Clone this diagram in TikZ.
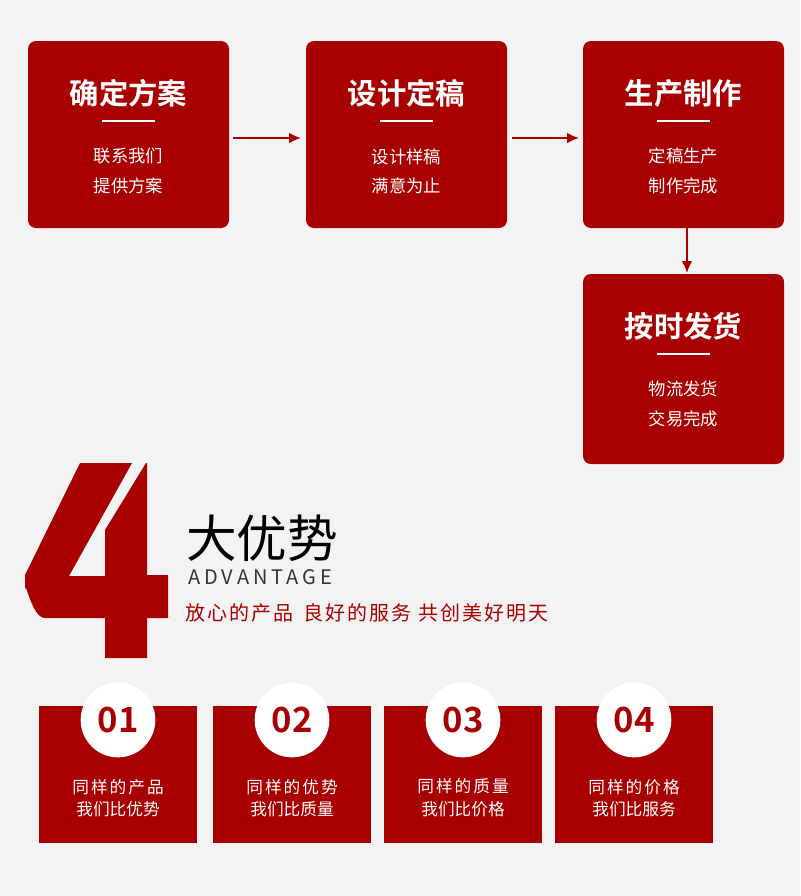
\documentclass[tikz,border=0pt]{standalone}
\usepackage{fontspec}
\setmainfont{Noto Sans CJK SC}[BoldFont=Noto Sans CJK SC Bold]
\definecolor{rd}{HTML}{A80000}
\definecolor{bg}{HTML}{F3F3F3}
\begin{document}
\begin{tikzpicture}[x=0.75pt,y=-0.75pt,
  card/.style={fill=rd,rounded corners=6pt},
  ttl/.style={text=white,font=\bfseries\fontsize{22}{24}\selectfont},
  sub/.style={text=white,align=center,font=\fontsize{13}{22}\selectfont},
  arr/.style={draw=rd,line width=1.5pt,-{Latex[length=9pt,width=8pt]}},
  sq/.style={fill=rd},
  num/.style={circle,fill=white,minimum size=56pt,inner sep=0pt,text=rd,font=\bfseries\fontsize{26}{28}\selectfont},
  ct/.style={text=white,align=center,font=\fontsize{12.5}{17}\selectfont}]
\usetikzlibrary{arrows.meta}
\fill[bg] (0,0) rectangle (800,896);
\useasboundingbox (0,0) rectangle (800,896);
% top cards
\foreach \n/\x/\y/\h/\t/\a/\b in {c1/28/41/187/确定方案/联系我们/提供方案, c2/306/41/187/设计定稿/设计样稿/满意为止, c3/583/41/187/生产制作/定稿生产/制作完成, c4/583/274/190/按时发货/物流发货/交易完成}{
  \path[card] (\x,\y) rectangle ++(201,\h) coordinate (\n e);
  \node[rectangle,minimum width=150pt,minimum height=140pt,inner sep=0pt] (\n) at (\x+100.5,\y+\h/2) {};
  \node[ttl] (\n t) at (\x+100.5,\y+52) {\t};
  \draw[white,line width=2.2pt] (\x+74,\y+80) -- (\x+127,\y+80);
  \node[sub] (\n s) at (\x+100.5,\y+130) {\a\\\b};
}
\coordinate (a1s) at (233,138); \coordinate (a1e) at (301,138);
\coordinate (a2s) at (512,138); \coordinate (a2e) at (579,138);
\coordinate (a3s) at (687,228); \coordinate (a3e) at (687,273);
\draw[arr] (a1s) -- (a1e);
\draw[arr] (a2s) -- (a2e);
\draw[arr] (a3s) -- (a3e);
% big 4
\fill[rd] (80,463) -- (132,463) -- (69,576) -- (105,576) -- (105,530) -- (146,463) -- (147,463) -- (147,575) -- (168,575) -- (168,618) -- (147,618) -- (147,658) -- (105,658) -- (105,618) -- (45,618) to[out=180,in=90] (25,590) -- (25,575) -- cycle;
\node[anchor=west,inner sep=0pt,font=\fontsize{38}{40}\selectfont] (big) at (186,538) {大优势};
\node[anchor=west,inner sep=0pt,text=black!80,font=\fontsize{15}{16}\selectfont\addfontfeatures{LetterSpace=20}] (adv) at (188,577) {ADVANTAGE};
\node[anchor=west,inner sep=0pt,text=rd,font=\fontsize{15}{16}\selectfont\addfontfeatures{LetterSpace=10}] (slog) at (185,613) {放心的产品\hspace{8pt}良好的服务 共创美好明天};
% bottom cards
\foreach \n/\x/\k/\a/\b in {d1/39/01/同样的产品/我们比优势, d2/213/02/同样的优势/我们比质量, d3/384/03/同样的质量/我们比价格, d4/555/04/同样的价格/我们比服务}{
  \fill[sq] (\x,706) rectangle ++(158,137);
  \node[num] (\n n) at (\x+79,720) {\k};
  \node[ct] (\n t) at (\x+79,798) {\addfontfeatures{LetterSpace=12}\a\\\b};
}
\end{tikzpicture}
\end{document}
